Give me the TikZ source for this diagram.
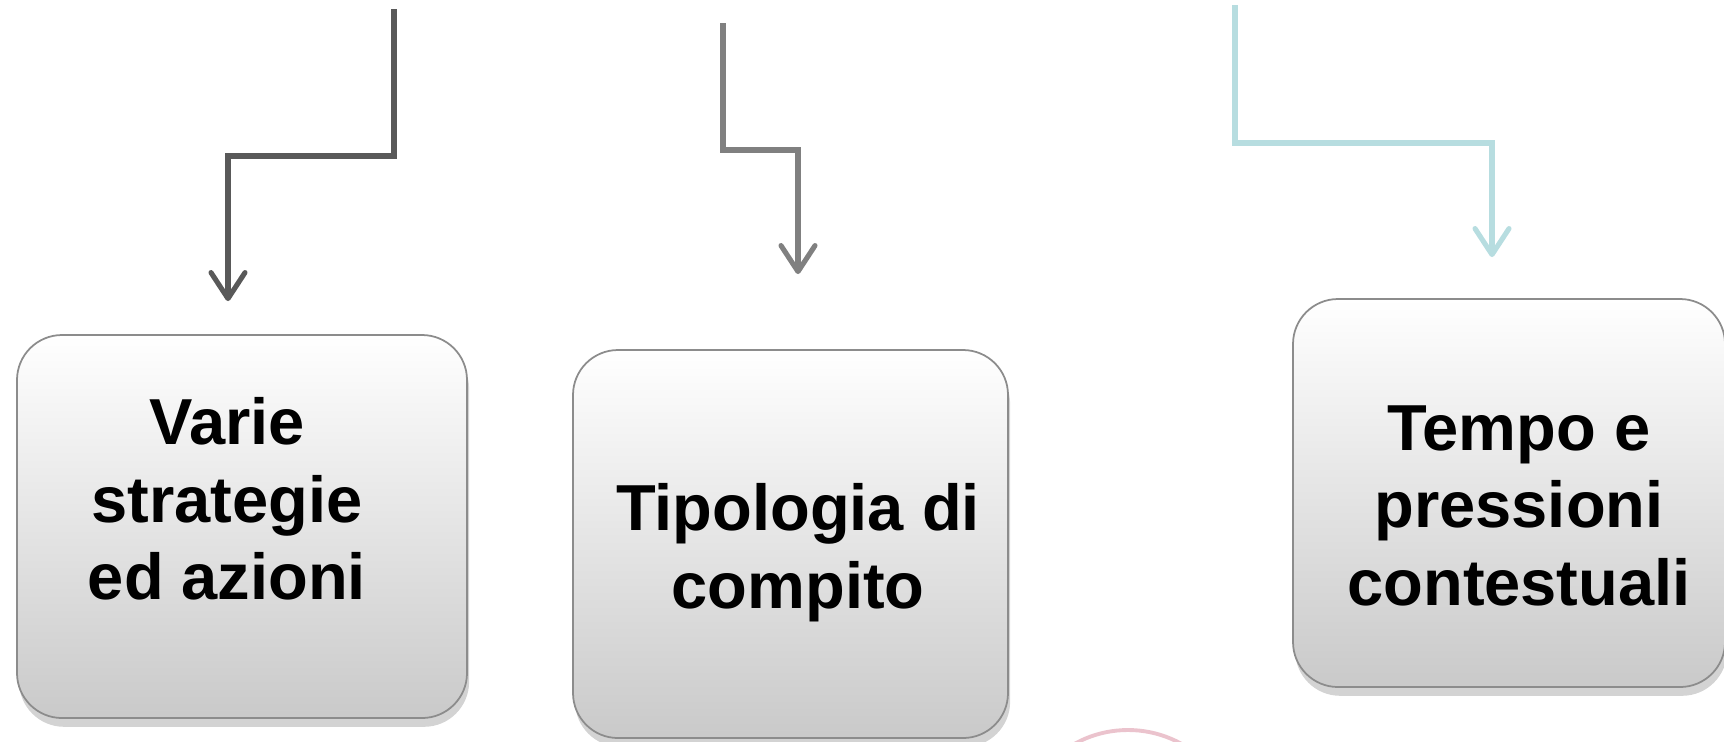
\documentclass[tikz,border=0pt]{standalone}
\usepackage{fontspec}
\setmainfont{Liberation Sans}
\usepackage{xcolor}
\usetikzlibrary{arrows.meta,positioning,shadows}
\definecolor{cDark}{HTML}{595959}
\definecolor{cMid}{HTML}{808080}
\definecolor{cTeal}{HTML}{B7DDE0}
\definecolor{cPink}{HTML}{EBC3CD}
\tikzset{
  card/.style={rounded corners=0.45cm,draw=black!45,line width=0.5pt,top color=white,middle color=black!3,bottom color=black!21,
    drop shadow={shadow xshift=0.6pt,shadow yshift=-2.5pt,opacity=0.35},inner sep=0},
  cardtext/.style={anchor=north,inner sep=0,align=center,font=\fontsize{18.5}{22}\selectfont\bfseries},
  link/.style={line width=1.45pt,-{Straight Barb[length=2.6mm,width=3.4mm,round]}}
}

\begin{document}
\begin{tikzpicture}
  \clip (0,0) rectangle (17.24,-7.41);
  % boxes
  \node[card,minimum width=4.50cm,minimum height=3.83cm] (varie) at (2.42,-5.265) {};
  \node[cardtext] (varieT) at (2.27,-3.97) {Varie\\strategie\\ed azioni};
  \node[card,minimum width=4.35cm,minimum height=3.88cm] (tipo) at (7.905,-5.44) {};
  \node[cardtext] (tipoT) at (7.98,-4.83) {Tipologia di\\compito};
  \node[card,minimum width=4.32cm,minimum height=3.88cm] (tempo) at (15.09,-4.93) {};
  \node[cardtext] (tempoT) at (15.19,-4.05) {Tempo e\\pressioni\\contestuali};
  % connectors
  \coordinate (srcA) at (3.94,-0.09);
  \coordinate (srcB) at (7.23,-0.23);
  \coordinate (srcC) at (12.35,-0.05);
  \draw[link,cDark,shorten >=0.33cm] (srcA) -- ++(0,-1.47) -| ([xshift=-0.14cm]varie.north);
  \draw[link,cMid,shorten >=0.75cm] (srcB) -- ++(0,-1.27) -| ([xshift=0.075cm]tipo.north);
  \draw[link,cTeal,shorten >=0.41cm] (srcC) -- ++(0,-1.38) -| ([xshift=-0.17cm]tempo.north);
  % logo, cut off
  \draw[cPink,line width=1.1pt] (11.28,-8.4) circle (1.1);
\end{tikzpicture}
\end{document}
